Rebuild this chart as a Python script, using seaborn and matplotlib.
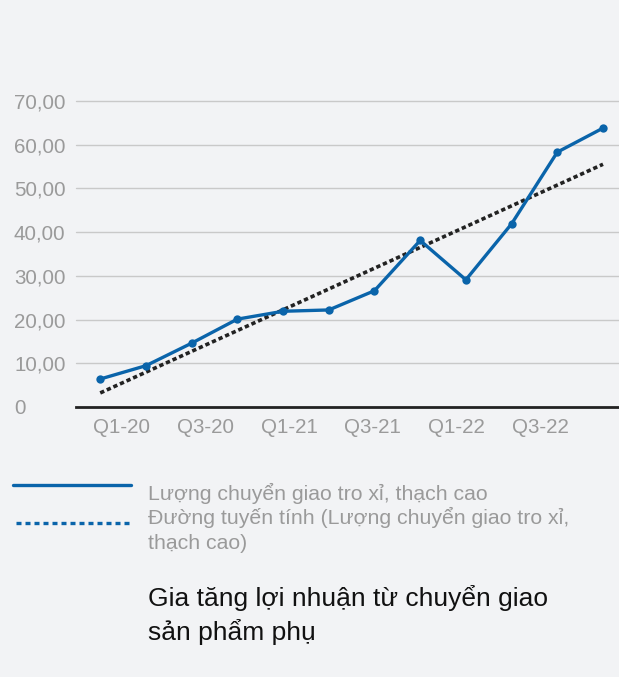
import numpy as np
import pandas as pd
import matplotlib
matplotlib.use("Agg")
import matplotlib.pyplot as plt
from matplotlib.lines import Line2D
import seaborn as sns

quarters = ["Q1-20", "Q2-20", "Q3-20", "Q4-20", "Q1-21", "Q2-21", "Q3-21",
            "Q4-21", "Q1-22", "Q2-22", "Q3-22", "Q4-22"]
values = [6.4, 9.45, 14.6, 20.1, 21.9, 22.2, 26.6, 38.1, 29.1, 41.9, 58.3, 63.8]
yticks = [0, 10, 20, 30, 40, 50, 60, 70]
ytick_labels = ["0", "10,00", "20,00", "30,00", "40,00", "50,00", "60,00", "70,00"]
xtick_labels = ["Q1-20", "Q3-20", "Q1-21", "Q3-21", "Q1-22", "Q3-22"]
series_label = ["Lượng chuyển giao tro xỉ, thạch cao"]
trend_label = ["Đường tuyến tính (Lượng chuyển giao tro xỉ,", "thạch cao)"]
title = ["Gia tăng lợi nhuận từ chuyển giao", "sản phẩm phụ"]

BG = "#f2f3f5"
BLUE = "#0a64aa"
GRAY = "#9a9a9a"

sns.set_theme(style="white")
plt.rcParams["font.family"] = ["Liberation Sans", "DejaVu Sans"]

df = pd.DataFrame({"idx": np.arange(len(quarters)), "quarter": quarters, "value": values})

W, H = 619, 677
fig = plt.figure(figsize=(W / 100, H / 100), dpi=100, facecolor=BG)
ax = fig.add_axes([76 / W, (H - 407) / H, (W - 76) / W, 306 / H])
ax.set_facecolor(BG)

# grid lines
for t in yticks[1:]:
    ax.axhline(t, color="#c9c9c9", lw=1.0, zorder=0)

sns.regplot(data=df, x="idx", y="value", scatter=False, ci=None, ax=ax,
            line_kws=dict(color="#222222", lw=2.6, linestyle=(0, (1.2, 0.8)), zorder=2))
sns.lineplot(data=df, x="idx", y="value", ax=ax, color=BLUE, lw=2.4,
             marker="o", markersize=6, markeredgewidth=0, zorder=3)
for l in ax.lines:
    l.set_clip_on(False)

ax.set_xlim(-0.53, 11.35)
ax.set_ylim(0, 70)
ax.set_xlabel("")
ax.set_ylabel("")
for s in ["top", "right", "left"]:
    ax.spines[s].set_visible(False)
ax.spines["bottom"].set_color("#222222")
ax.spines["bottom"].set_linewidth(2.0)
ax.set_xticks([])

ax.set_yticks(yticks)
ax.set_yticklabels(ytick_labels)
ax.tick_params(axis="y", length=0, pad=62 * 0.72, labelsize=14.8, labelcolor=GRAY)
for lab in ax.get_yticklabels():
    lab.set_horizontalalignment("left")

# category label axis (labels spaced as in the reference)
ax2 = ax.twiny()
ax2.xaxis.set_ticks_position("bottom")
ax2.xaxis.set_label_position("bottom")
ax2.set_xlim(-1.08, 11.87)
ax2.set_xticks(np.arange(0, len(quarters), 2))
ax2.set_xticklabels(xtick_labels)
ax2.tick_params(axis="x", length=0, pad=8, labelsize=14.8, labelcolor=GRAY)
for s in ax2.spines.values():
    s.set_visible(False)

# legend (manual)
fig.add_artist(Line2D([13 / W, 131 / W], [1 - 485 / H, 1 - 485 / H], color=BLUE, lw=2.4))
fig.add_artist(Line2D([16 / W, 131 / W], [1 - 523 / H, 1 - 523 / H], color=BLUE, lw=2.4,
                      linestyle=(0, (1.5, 1.2))))
legend_lines = series_label + trend_label
for i, line in enumerate(legend_lines):
    fig.text(148 / W, 1 - (500 + 24.5 * i) / H, line, fontsize=15.3, color=GRAY,
             va="baseline", ha="left")

for i, line in enumerate(title):
    fig.text(148 / W, 1 - (606 + 34 * i) / H, line, fontsize=19, color="#111111",
             va="baseline", ha="left")

fig.savefig("out.png", dpi=100, facecolor=BG)
